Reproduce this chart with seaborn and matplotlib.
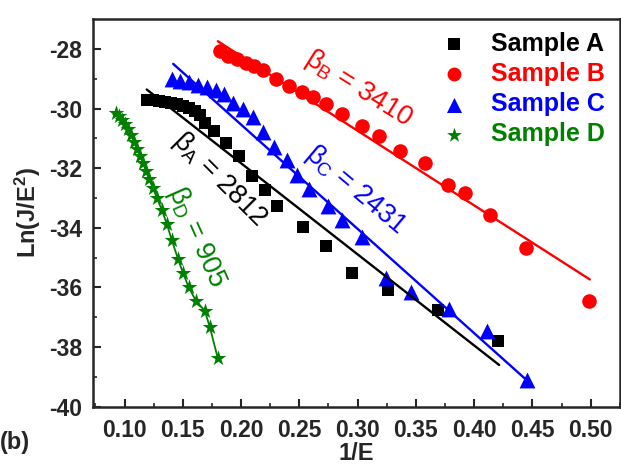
import numpy as np
import pandas as pd
import matplotlib
matplotlib.use("Agg")
import matplotlib.pyplot as plt
import seaborn as sns

# Sample A (black squares)
xa = [0.1192, 0.1244, 0.1295, 0.1346, 0.1397, 0.1449, 0.1500, 0.1551, 0.1603, 0.1645,
      0.1688, 0.1765, 0.1868, 0.1979, 0.2090, 0.2209, 0.2312, 0.2534, 0.2731, 0.2953,
      0.3261, 0.3688, 0.4209]
ya = [-29.71, -29.72, -29.74, -29.77, -29.81, -29.86, -29.91, -29.98, -30.08, -30.21,
      -30.48, -30.75, -31.15, -31.59, -32.26, -32.74, -33.28, -33.98, -34.62, -35.50,
      -36.10, -36.74, -37.79]

# Sample B (red circles)
xb = [0.1816, 0.1885, 0.1962, 0.2038, 0.2107, 0.2184, 0.2303, 0.2415, 0.2526, 0.2620,
      0.2731, 0.2868, 0.3038, 0.3184, 0.3363, 0.3577, 0.3774, 0.3919, 0.4132, 0.4449,
      0.4987]
yb = [-28.08, -28.22, -28.35, -28.46, -28.57, -28.72, -29.00, -29.25, -29.43, -29.62,
      -29.84, -30.18, -30.58, -30.92, -31.42, -31.83, -32.57, -32.84, -33.58, -34.66,
      -36.44]

# Sample C (blue triangles)
xc = [0.1406, 0.1474, 0.1551, 0.1628, 0.1705, 0.1782, 0.1850, 0.1927, 0.2013, 0.2098,
      0.2184, 0.2278, 0.2397, 0.2483, 0.2585, 0.2748, 0.2868, 0.3038, 0.3244, 0.3457,
      0.3782, 0.4107, 0.4457]
yc = [-29.00, -29.07, -29.12, -29.20, -29.29, -29.37, -29.50, -29.81, -30.01, -30.28,
      -30.78, -31.29, -31.73, -32.23, -32.70, -33.28, -33.75, -34.29, -35.67, -36.14,
      -36.71, -37.45, -39.10]

# Sample D (green stars)
xd = [0.0927, 0.0953, 0.0979, 0.1004, 0.1030, 0.1056, 0.1081, 0.1107, 0.1132, 0.1158,
      0.1184, 0.1209, 0.1244, 0.1278, 0.1321, 0.1363, 0.1406, 0.1457, 0.1500, 0.1551,
      0.1611, 0.1688, 0.1731, 0.1799]
yd = [-30.14, -30.25, -30.38, -30.52, -30.68, -30.89, -31.12, -31.36, -31.59, -31.83,
      -32.10, -32.37, -32.67, -33.01, -33.41, -33.88, -34.42, -35.03, -35.50, -36.00,
      -36.44, -36.78, -37.32, -38.36]

# linear fit lines (end points)
fit_a_x, fit_a_y = [0.119, 0.4215], [-29.36, -38.60]
fit_b_x, fit_b_y = [0.180, 0.4993], [-27.74, -35.73]
fit_c_x, fit_c_y = [0.1417, 0.4466], [-28.50, -39.16]

labels = ["Sample A", "Sample B", "Sample C", "Sample D"]
colors = ["black", "#FF0000", "#0000FF", "#008000"]
betas = ["2812", "3410", "2431", "905"]

sns.set_style("ticks")
plt.rcParams['font.family'] = ['Liberation Sans', 'DejaVu Sans']
plt.rcParams['xtick.direction'] = 'in'
plt.rcParams['ytick.direction'] = 'in'
plt.rcParams['axes.unicode_minus'] = False
plt.rcParams['mathtext.default'] = 'regular'

fig = plt.figure(figsize=(6.21, 4.67), dpi=100)
ax = fig.add_axes([0.150, 0.129, 0.848, 0.830])

# fit lines
sns.lineplot(x=fit_a_x, y=fit_a_y, color=colors[0], lw=1.7, ax=ax)
sns.lineplot(x=fit_b_x, y=fit_b_y, color=colors[1], lw=1.7, ax=ax)
sns.lineplot(x=fit_c_x, y=fit_c_y, color=colors[2], lw=1.7, ax=ax)
sns.lineplot(x=xd, y=yd, color=colors[3], lw=1.3, sort=False, ax=ax)

# data points
sns.scatterplot(x=xa, y=ya, marker='s', s=75, color=colors[0], linewidth=0, label=labels[0], ax=ax)
sns.scatterplot(x=xb, y=yb, marker='o', s=110, color=colors[1], linewidth=0, label=labels[1], ax=ax)
sns.scatterplot(x=xc, y=yc, marker='^', s=130, color=colors[2], linewidth=0, label=labels[2], ax=ax)
sns.scatterplot(x=xd, y=yd, marker='*', s=140, color=colors[3], linewidth=0, label=labels[3], ax=ax)

ax.set_xlim(0.073, 0.525)
ax.set_ylim(-40, -27)
ax.set_xticks(np.arange(0.10, 0.501, 0.05))
ax.set_xticks(np.arange(0.075, 0.526, 0.025), minor=True)
ax.set_yticks(np.arange(-40, -27, 2))
ax.set_yticks(np.arange(-40, -27, 1), minor=True)
ax.set_xticklabels(["%.2f" % v for v in np.arange(0.10, 0.501, 0.05)])
ax.tick_params(which='major', length=6, width=1.5, labelsize=16.5, pad=8)
ax.tick_params(axis='x', which='major', pad=9)
ax.tick_params(which='minor', length=3, width=1.2)
for t in ax.get_xticklabels() + ax.get_yticklabels():
    t.set_fontweight('bold')
for s in ax.spines.values():
    s.set_linewidth(1.8)

ax.set_xlabel("1/E", fontsize=17, fontweight='bold', labelpad=0)
ax.set_ylabel("Ln(J/E$^2$)", fontsize=17, fontweight='bold', labelpad=4)
fig.text(0.0, 0.038, "(b)", fontsize=17, fontweight='bold')

leg = ax.legend(loc='upper right', bbox_to_anchor=(0.995, 1.0), frameon=False,
                fontsize=18, handlelength=1.0, handletextpad=0.95,
                labelspacing=0.25, borderaxespad=0.1, markerscale=0.95)
for txt, c in zip(leg.get_texts(), colors):
    txt.set_color(c)
    txt.set_fontweight('bold')

# slope annotations
ax.text(0.1816, -32.37, "β$_A$ = " + betas[0], color=colors[0], fontsize=19.5, rotation=-45,
        ha='center', va='center', rotation_mode='anchor')
ax.text(0.3010, -29.34, "β$_B$ = " + betas[1], color=colors[1], fontsize=19.5, rotation=-32,
        ha='center', va='center', rotation_mode='anchor')
ax.text(0.2979, -32.74, "β$_C$ = " + betas[2], color=colors[2], fontsize=19.5, rotation=-40,
        ha='center', va='center', rotation_mode='anchor')
ax.text(0.1613, -34.29, "β$_D$ = " + betas[3], color=colors[3], fontsize=19.5, rotation=-66,
        ha='center', va='center', rotation_mode='anchor')

fig.savefig("out.png", dpi=100)
